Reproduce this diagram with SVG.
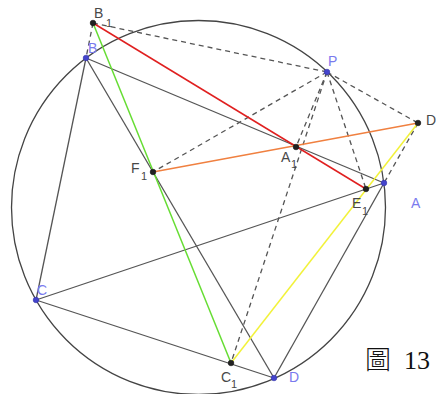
<svg xmlns="http://www.w3.org/2000/svg" width="436" height="394" viewBox="0 0 436 394">
<style>
.s{stroke:#555;stroke-width:1.3;fill:none}
.d{stroke:#555;stroke-width:1.3;fill:none;stroke-dasharray:5 4}
.c{stroke-width:1.5;fill:none}
.pk{fill:#222;stroke:#111;stroke-width:0.6}
.pb{fill:#4444cc;stroke:#3333aa;stroke-width:0.6}
.lg{font-family:"Liberation Sans",Arial,sans-serif;font-size:14px;fill:#484848}
.lb{font-family:"Liberation Sans",Arial,sans-serif;font-size:14px;fill:#7a7aee}
.sub{font-size:11px}
</style>
<rect width="436" height="394" fill="#fff"/>
<g id="circle"><circle cx="198.5" cy="207.5" r="187" stroke="#444" stroke-width="1.3" fill="none"/></g>
<g id="connectors">
<line class="s" x1="86" y1="58" x2="36" y2="300"/>
<line class="s" x1="86" y1="58" x2="384" y2="183"/>
<line class="s" x1="86" y1="58" x2="274" y2="378"/>
<line class="s" x1="36" y1="300" x2="384" y2="183"/>
<line class="s" x1="36" y1="300" x2="274" y2="378"/>
<line class="s" x1="274" y1="378" x2="384" y2="183"/>
<line class="d" x1="93" y1="23" x2="86" y2="58"/>
<line class="d" x1="93" y1="23" x2="327" y2="72"/>
<line class="d" x1="327" y1="72" x2="418" y2="123"/>
<line class="d" x1="327" y1="72" x2="153" y2="172"/>
<line class="d" x1="327" y1="72" x2="296" y2="147"/>
<line class="d" x1="327" y1="72" x2="231" y2="363"/>
<line class="d" x1="327" y1="72" x2="366" y2="189"/>
<line class="d" x1="418" y1="123" x2="384" y2="183"/>
<line class="c" stroke="#e02020" x1="93" y1="23" x2="366" y2="189"/>
<line class="c" stroke="#66dd33" x1="93" y1="23" x2="231" y2="363"/>
<line class="c" stroke="#f08040" x1="153" y1="172" x2="418" y2="123"/>
<line class="c" stroke="#f2f23a" x1="231" y1="363" x2="418" y2="123"/>
</g>
<g id="B1"><circle class="pk" cx="93" cy="23" r="2.8"/><text class="lg" x="94" y="18">B<tspan class="sub" x="106" y="27">1</tspan></text></g>
<g id="B"><circle class="pb" cx="86" cy="58" r="2.8"/><text class="lb" x="88" y="53">B</text></g>
<g id="P"><circle class="pb" cx="327" cy="72" r="2.8"/><text class="lb" x="328" y="66">P</text></g>
<g id="D1"><circle class="pk" cx="418" cy="123" r="2.8"/><text class="lg" x="426" y="125">D</text></g>
<g id="A1"><circle class="pk" cx="296" cy="147" r="2.8"/><text class="lg" x="281" y="162">A<tspan class="sub" x="291" y="168">1</tspan></text></g>
<g id="F1"><circle class="pk" cx="153" cy="172" r="2.8"/><text class="lg" x="131" y="173">F<tspan class="sub" x="141" y="180">1</tspan></text></g>
<g id="E1"><circle class="pk" cx="366" cy="189" r="2.8"/><text class="lg" x="352" y="208">E<tspan class="sub" x="362" y="215">1</tspan></text></g>
<g id="A"><circle class="pb" cx="384" cy="183" r="2.8"/><text class="lb" x="411" y="208">A</text></g>
<g id="C"><circle class="pb" cx="36" cy="300" r="2.8"/><text class="lb" x="37" y="295">C</text></g>
<g id="C1"><circle class="pk" cx="231" cy="363" r="2.8"/><text class="lg" x="221" y="382">C<tspan class="sub" x="231" y="388">1</tspan></text></g>
<g id="D"><circle class="pb" cx="274" cy="378" r="2.8"/><text class="lb" x="289" y="382">D</text></g>
<g id="caption"><text x="365" y="369" font-family="'Liberation Serif','Noto Sans CJK TC',serif" font-size="26" font-weight="300" fill="#111">圖<tspan x="404">13</tspan></text></g>
</svg>
